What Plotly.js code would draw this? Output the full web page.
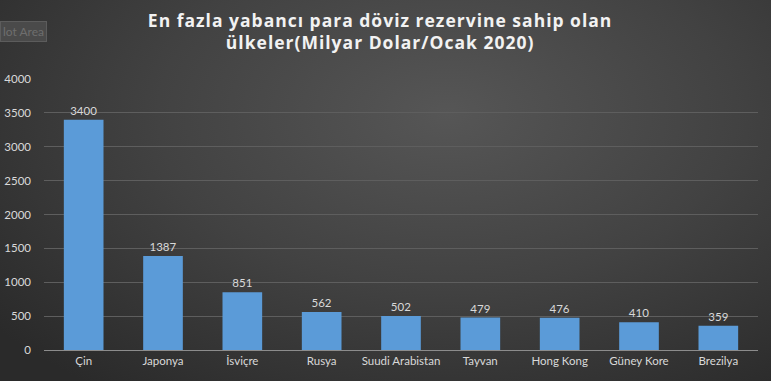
<!DOCTYPE html>
<html>
<head>
<meta charset="utf-8">
<script src="https://cdn.plot.ly/plotly-3.0.1.min.js"></script>
<style>
html,body{margin:0;padding:0;}
#chart{width:771px;height:381px;background:radial-gradient(ellipse 75% 90% at 58% 30%, #565656 0%, #424242 50%, #2a2a2a 100%);}
#chart .gtitle{letter-spacing:1px;}
</style>
</head>
<body>
<div id="chart"></div>
<script>
var categories = ["Çin","Japonya","İsviçre","Rusya","Suudi Arabistan","Tayvan","Hong Kong","Güney Kore","Brezilya"];
var reserves = [3400,1387,851,562,502,479,476,410,359];
var yTicks = [0,500,1000,1500,2000,2500,3000,3500,4000];
var chartTitle = "En fazla yabancı para döviz rezervine sahip olan<br>ülkeler(Milyar Dolar/Ocak 2020)";

var trace = {
  type: "bar",
  x: categories,
  y: reserves,
  text: reserves.map(String),
  textposition: "outside",
  cliponaxis: false,
  textfont: {family: "Lato, sans-serif", size: 11.5, color: "#d9d9d9"},
  marker: {color: "#5b9bd8", line: {width: 0}},
  hoverinfo: "x+y"
};

var layout = {
  width: 771, height: 381,
  paper_bgcolor: "rgba(0,0,0,0)",
  plot_bgcolor: "rgba(0,0,0,0)",
  margin: {l: 44, r: 13, t: 79, b: 31},
  bargap: 0.5,
  showlegend: false,
  title: {
    text: chartTitle,
    x: 0.493, xanchor: "center",
    y: 0.93, yanchor: "top",
    font: {family: "Open Sans, sans-serif", size: 17.5, color: "#f2f2f2", weight: "bold"}
  },
  xaxis: {
    type: "category",
    showgrid: false,
    showline: true, linecolor: "#8c8c8c", linewidth: 1,
    ticks: "",
    tickfont: {family: "Lato, sans-serif", size: 11.5, color: "#d9d9d9"},
    fixedrange: true
  },
  yaxis: {
    range: [0, 4000],
    tickvals: yTicks,
    ticktext: yTicks.map(String),
    showgrid: true, gridcolor: "#5e5e5e", gridwidth: 1,
    zeroline: false,
    showline: false,
    ticks: "",
    ticklabelstandoff: 12,
    tickfont: {family: "Lato, sans-serif", size: 11.5, color: "#d9d9d9"},
    fixedrange: true
  },
  annotations: [{
    xref: "paper", yref: "paper",
    x: -0.0616, y: 1.175, xanchor: "left", yanchor: "middle",
    text: "lot Area",
    showarrow: false,
    font: {family: "Lato, sans-serif", size: 12, color: "#6e6e6e"},
    bgcolor: "#4a4a4a",
    bordercolor: "#5c5c5c", borderwidth: 1, borderpad: 2
  }]
};

Plotly.newPlot("chart", [trace], layout, {displayModeBar: false, staticPlot: true});
</script>
</body>
</html>
